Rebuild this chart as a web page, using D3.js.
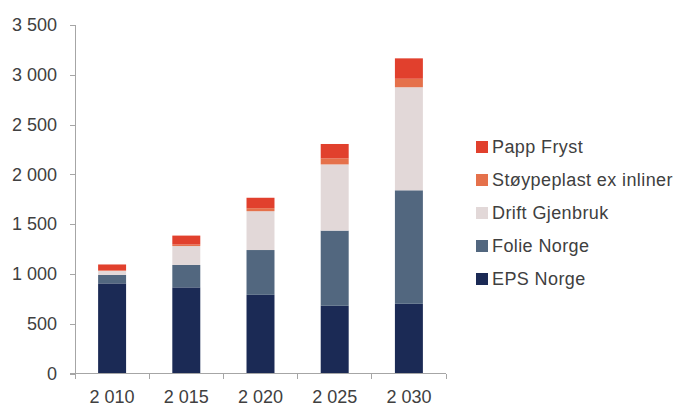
<!DOCTYPE html>
<html>
<head>
  <meta charset="utf-8">
  <script src="https://cdn.jsdelivr.net/npm/d3@7"></script>
  <style>
    body { margin: 0; background: #fff; }
    text { font-family: 'Liberation Sans', Arial, sans-serif; fill: #404040; }
    .axis path, .axis line { stroke: #a6a6a6; shape-rendering: crispEdges; }
  </style>
</head>
<body>
<svg id="chart" width="676" height="407"></svg>
<script>
  // years on the x axis
  var years = ['2010', '2015', '2020', '2025', '2030'];
  var yearLabels = ['2 010', '2 015', '2 020', '2 025', '2 030'];

  // series, bottom to top
  var seriesNames = ['EPS Norge', 'Folie Norge', 'Drift Gjenbruk', 'Støypeplast ex inliner', 'Papp Fryst'];
  var epsNorge = [905, 865, 790, 680, 700];
  var folieNorge = [85, 225, 450, 755, 1140];
  var driftGjenbruk = [40, 190, 390, 665, 1035];
  var stoypeplast = [5, 15, 30, 60, 85];
  var pappFryst = [60, 90, 105, 145, 205];
  var colors = ['#1b2a55', '#52677f', '#e2d8d8', '#e5714b', '#e1402d'];

  var yTicks = [0, 500, 1000, 1500, 2000, 2500, 3000, 3500];

  var rows = years.map(function (y, i) {
    return {
      year: y,
      'EPS Norge': epsNorge[i],
      'Folie Norge': folieNorge[i],
      'Drift Gjenbruk': driftGjenbruk[i],
      'Støypeplast ex inliner': stoypeplast[i],
      'Papp Fryst': pappFryst[i]
    };
  });

  var svg = d3.select('#chart');

  var x = d3.scaleBand()
    .domain(years)
    .range([75, 446])
    .paddingInner(0.623)
    .paddingOuter(0.3115);

  var y = d3.scaleLinear()
    .domain([0, 3500])
    .range([373.5, 25]);

  var color = d3.scaleOrdinal().domain(seriesNames).range(colors);

  var stacked = d3.stack().keys(seriesNames)(rows);

  svg.append('g')
    .selectAll('g')
    .data(stacked)
    .enter()
    .append('g')
    .attr('fill', function (d) { return color(d.key); })
    .selectAll('rect')
    .data(function (d) { return d; })
    .enter()
    .append('rect')
    .attr('x', function (d) { return x(d.data.year); })
    .attr('width', x.bandwidth())
    .attr('y', function (d) { return y(d[1]); })
    .attr('height', function (d) { return y(d[0]) - y(d[1]); });

  var nf = d3.formatLocale({ decimal: ',', thousands: ' ', grouping: [3], currency: ['', ''] }).format(',d');

  // y axis
  var yAxis = svg.append('g')
    .attr('class', 'axis')
    .attr('transform', 'translate(75,0)')
    .call(d3.axisLeft(y).tickValues(yTicks).tickFormat(nf).tickSizeOuter(0).tickSize(5).tickPadding(13));
  yAxis.selectAll('text').style('font-size', '18px').attr('fill', '#404040');

  // x axis with labels at band centers, ticks between bands
  var xAxis = svg.append('g')
    .attr('class', 'axis')
    .attr('transform', 'translate(0,' + y(0) + ')')
    .call(d3.axisBottom(x).tickFormat(function (d, i) { return yearLabels[i]; }).tickSize(0).tickPadding(17));
  xAxis.select('.domain').attr('d', 'M70,0H446');
  xAxis.selectAll('text').style('font-size', '18px').attr('fill', '#404040');

  var half = (x.step() - x.bandwidth()) / 2;
  var bounds = years.map(function (d) { return x(d) - half; }).concat([x(years[4]) + x.bandwidth() + half]);
  xAxis.selectAll('.bound')
    .data(bounds)
    .enter()
    .append('line')
    .attr('class', 'bound')
    .attr('x1', function (d) { return d; })
    .attr('x2', function (d) { return d; })
    .attr('y1', 0)
    .attr('y2', 5);

  // legend, top to bottom in reverse stack order
  var legendItems = seriesNames.slice().reverse();
  var legend = svg.append('g')
    .selectAll('g')
    .data(legendItems)
    .enter()
    .append('g')
    .attr('transform', function (d, i) { return 'translate(476,' + (147 + i * 33) + ')'; });

  legend.append('rect')
    .attr('x', 0)
    .attr('y', -6)
    .attr('width', 12)
    .attr('height', 12)
    .attr('fill', function (d) { return color(d); });

  legend.append('text')
    .attr('x', 16)
    .attr('y', 0)
    .attr('dy', '0.35em')
    .style('font-size', '18px')
    .style('letter-spacing', '0.4px')
    .text(function (d) { return d; });
</script>
</body>
</html>
